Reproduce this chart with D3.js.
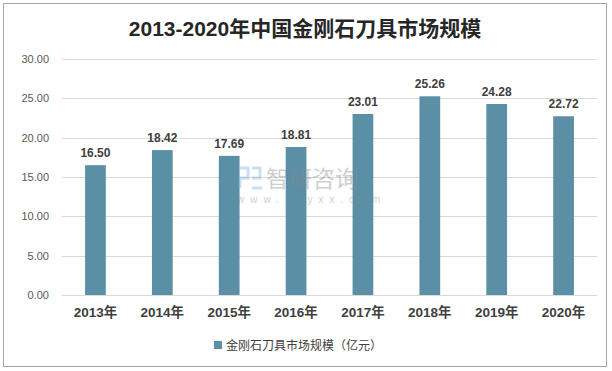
<!DOCTYPE html>
<html>
<head>
<meta charset="utf-8">
<script src="https://cdn.jsdelivr.net/npm/d3@7"></script>
<style>
  body { margin: 0; background: #fff; }
  svg text { font-family: "Liberation Sans", "Noto Sans CJK SC", sans-serif; }
</style>
</head>
<body>
<div id="chart"></div>
<script>
const years = ["2013年", "2014年", "2015年", "2016年", "2017年", "2018年", "2019年", "2020年"];
const values = [16.50, 18.42, 17.69, 18.81, 23.01, 25.26, 24.28, 22.72];
const yTicks = [0, 5, 10, 15, 20, 25, 30];
const title = "2013-2020年中国金刚石刀具市场规模";
const seriesName = "金刚石刀具市场规模（亿元）";

const ctx = { w: 612, h: 371, left: 62, right: 597, top: 59, bottom: 295 };
const barColor = "#5b8fa6";

const svg = d3.select("#chart").append("svg")
  .attr("width", ctx.w).attr("height", ctx.h);

// outer frame
svg.append("rect")
  .attr("x", 3.5).attr("y", 3.5)
  .attr("width", 603).attr("height", 363)
  .attr("fill", "#fff").attr("stroke", "#a6a6a6");

svg.append("text")
  .attr("x", 305).attr("y", 36)
  .attr("text-anchor", "middle")
  .style("font-size", "21px").style("font-weight", "bold").style("fill", "#262626")
  .text(title);

const x = d3.scaleBand().domain(years).range([ctx.left, ctx.right]).paddingInner(0.69).paddingOuter(0.345);
const y = d3.scaleLinear().domain([0, 30]).range([ctx.bottom, ctx.top]);

// gridlines
svg.append("g")
  .selectAll("line").data(yTicks).enter().append("line")
  .attr("x1", ctx.left).attr("x2", ctx.right)
  .attr("y1", d => Math.round(y(d)) + 0.5).attr("y2", d => Math.round(y(d)) + 0.5)
  .attr("stroke", "#d9d9d9");

// y axis labels
svg.append("g")
  .attr("transform", "translate(" + (ctx.left - 10) + ",0)")
  .call(d3.axisLeft(y).tickValues(yTicks).tickFormat(d3.format(".2f")).tickSize(0))
  .call(g => g.select(".domain").remove())
  .selectAll("text")
    .style("font-size", "11px").style("fill", "#595959");

// bars
svg.append("g")
  .selectAll("rect").data(values).enter().append("rect")
  .attr("x", (d, i) => x(years[i]))
  .attr("y", d => y(d))
  .attr("width", x.bandwidth())
  .attr("height", d => y(0) - y(d))
  .attr("fill", barColor);

// watermark (sits over the bars)
const wm = svg.append("g").attr("opacity", 0.4);
wm.append("text").attr("x", 266).attr("y", 187)
  .style("font-size", "23px").style("fill", "#8a8a8a").style("font-family", "Noto Sans CJK SC")
  .text("智研咨询");
wm.append("text").attr("x", 237).attr("y", 203)
  .style("font-size", "10px").style("fill", "#8a8a8a").style("letter-spacing", "6px")
  .text("www.chyxx.com");
wm.append("path")
  .attr("d", "M238,168 h10 v10 h-8 v10 M252,168 h8 v10 h-8 M252,188 h10")
  .attr("fill", "none").attr("stroke", "#7fb0e0").attr("stroke-width", 3);

// value labels
svg.append("g")
  .selectAll("text").data(values).enter().append("text")
  .attr("x", (d, i) => x(years[i]) + x.bandwidth() / 2)
  .attr("y", d => y(d) - 8)
  .attr("text-anchor", "middle")
  .style("font-size", "12px").style("font-weight", "bold").style("fill", "#404040")
  .text(d => d.toFixed(2));

// x axis
svg.append("g")
  .attr("transform", "translate(0," + ctx.bottom + ")")
  .call(d3.axisBottom(x).tickSize(0).tickPadding(12))
  .call(g => g.select(".domain").remove())
  .selectAll("text")
    .style("font-size", "13.5px").style("font-weight", "bold").style("fill", "#404040");

// legend
const legend = svg.append("g");
legend.append("rect").attr("x", 214).attr("y", 341).attr("width", 8).attr("height", 8).attr("fill", barColor);
legend.append("text").attr("x", 226).attr("y", 349.5)
  .style("font-size", "12px").style("fill", "#404040")
  .text(seriesName);
</script>
</body>
</html>
